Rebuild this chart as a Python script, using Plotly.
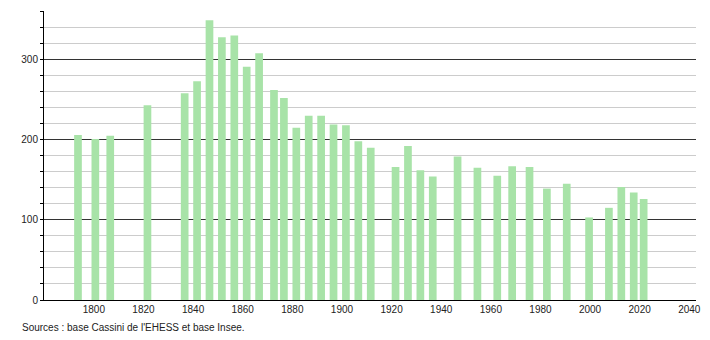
import plotly.graph_objects as go

years = [1793, 1800, 1806, 1821, 1836, 1841, 1846, 1851, 1856, 1861, 1866,
         1872, 1876, 1881, 1886, 1891, 1896, 1901, 1906, 1911, 1921, 1926,
         1931, 1936, 1946, 1954, 1962, 1968, 1975, 1982, 1990, 1999, 2007,
         2012, 2017, 2021]
population = [206, 201, 205, 243, 258, 273, 349, 328, 330, 291, 308,
              262, 252, 215, 230, 230, 219, 218, 198, 190, 166, 192,
              162, 154, 179, 165, 155, 167, 166, 139, 145, 103, 115,
              141, 134, 126]
x_ticks = [1800, 1820, 1840, 1860, 1880, 1900, 1920, 1940, 1960, 1980, 2000, 2020, 2040]
y_ticks = [0, 100, 200, 300]
source_text = "Sources : base Cassini de l'EHESS et base Insee."

fig = go.Figure()
fig.add_trace(go.Bar(
    x=years, y=population,
    width=3.1, offset=-0.95,
    marker=dict(color="#a8e3a8", line=dict(width=0)),
    hoverinfo="x+y",
))

W, H = 710, 340
ml, mr, mt, mb = 44, 9, 11, 40
pw = W - ml - mr
ph = H - mt - mb

fig.update_layout(
    width=W, height=H,
    margin=dict(l=ml, r=mr, t=mt, b=mb, pad=0),
    plot_bgcolor="white", paper_bgcolor="white",
    showlegend=False,
    font=dict(family="Liberation Sans, Arial, sans-serif", size=10, color="#222"),
    xaxis=dict(
        range=[1779.9, 2042.7],
        tickmode="array", tickvals=x_ticks, ticktext=[str(t) for t in x_ticks],
        showgrid=False, zeroline=False,
        showline=True, linecolor="black", linewidth=1,
        ticks="", ticklen=0,
    ),
    yaxis=dict(
        range=[0, 360.6],
        tickmode="array", tickvals=y_ticks,
        showgrid=True, gridcolor="#333333", gridwidth=1,
        zeroline=False,
        showline=True, linecolor="black", linewidth=1,
        ticks="outside", ticklen=3, tickcolor="black",
        minor=dict(dtick=20, tick0=0, showgrid=True, gridcolor="#cccccc", gridwidth=1,
                   ticks="outside", ticklen=3, tickcolor="black"),
    ),
    annotations=[dict(
        text=source_text, showarrow=False,
        xref="paper", yref="paper",
        x=(20 - ml) / pw, y=(300 - 327) / ph,
        xanchor="left", yanchor="middle",
        font=dict(size=10, color="#222"),
    )],
)

fig.write_html("out.html")
